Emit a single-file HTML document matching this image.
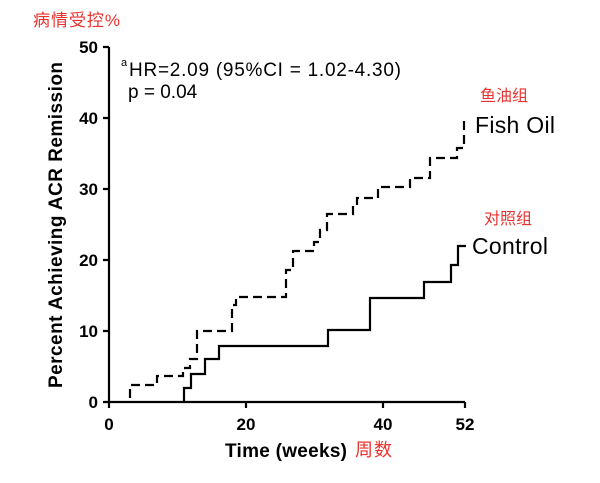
<!DOCTYPE html>
<html><head><meta charset="utf-8"><style>
html,body{margin:0;padding:0;background:#fff;width:600px;height:483px;overflow:hidden}
</style></head><body>
<svg width="600" height="483" viewBox="0 0 600 483" xmlns="http://www.w3.org/2000/svg" font-family="Liberation Sans, Noto Sans CJK SC, sans-serif">
<text x="33" y="26" font-size="17" fill="#e8332f" textLength="87">病情受控%</text>
<g stroke="#000" stroke-width="2.2" fill="none">
<path d="M109 47 V402 H465"/>
<path d="M103 47H109M103 118H109M103 189H109M103 260H109M103 331H109M103 402H109"/>
<path d="M109 402V408M246 402V408M383 402V408M465 402V408"/>
<path d="M130 398 V385 H157 V376 H183 V368 H190 V359 H197 V331 H232 V305 H236 V297 H286 V270 H293 V251 H314 V242 H320 V230 H327 V214 H353 V206 H357 V198 H378 V187 H410 V178 H430 V158 H457 V148 H464 V116" stroke-dasharray="9,5"/>
<path d="M184 402 V388 H191 V374 H205 V359 H219 V346 H328 V330 H370 V298 H424 V282 H451 V265 H458 V246 H466"/>
</g>
<g font-size="17" font-weight="bold" text-anchor="end">
<text x="98" y="53">50</text><text x="98" y="124">40</text><text x="98" y="195">30</text><text x="98" y="266">20</text><text x="98" y="337">10</text><text x="98" y="408">0</text>
</g>
<g font-size="17" font-weight="bold" text-anchor="middle">
<text x="109" y="430">0</text><text x="246" y="430">20</text><text x="383" y="430">40</text><text x="465" y="430">52</text>
</g>
<text x="225" y="457" font-size="19" font-weight="bold" textLength="122">Time (weeks)</text>
<text x="355" y="456" font-size="18" fill="#e8332f" textLength="37">周数</text>
<text transform="translate(62,225) rotate(-90)" text-anchor="middle" font-size="19" font-weight="bold" textLength="326">Percent Achieving ACR Remission</text>
<text x="121" y="66" font-size="11">a</text>
<text x="129" y="76" font-size="19" textLength="272">HR=2.09 (95%CI = 1.02-4.30)</text>
<text x="128" y="98" font-size="19">p = 0.04</text>
<text x="480" y="101" font-size="16" fill="#e8332f">鱼油组</text>
<text x="475" y="133" font-size="23" textLength="80">Fish Oil</text>
<text x="484" y="224" font-size="16" fill="#e8332f">对照组</text>
<text x="472" y="254" font-size="23" textLength="76">Control</text>
</svg>
</body></html>
